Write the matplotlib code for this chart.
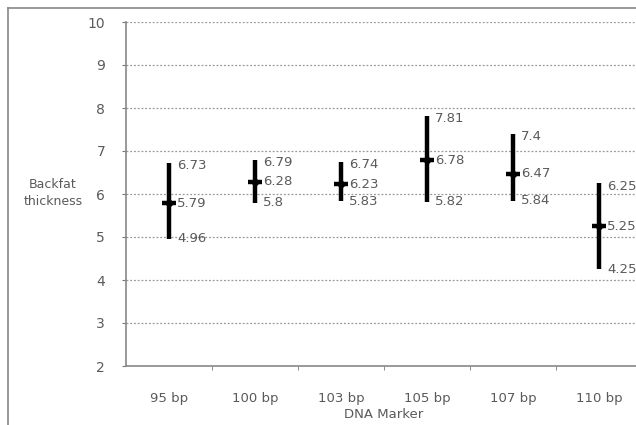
import numpy as np
import matplotlib.pyplot as plt
from matplotlib.lines import Line2D

# Chart data
markers = ["95 bp", "100 bp", "103 bp", "105 bp", "107 bp", "110 bp"]
high_vals = [6.73, 6.79, 6.74, 7.81, 7.4, 6.25]
mean_vals = [5.79, 6.28, 6.23, 6.78, 6.47, 5.25]
low_vals = [4.96, 5.8, 5.83, 5.82, 5.84, 4.25]

plt.rcParams['font.family'] = ['DejaVu Sans']
text_col = '#5a5a5a'

fig = plt.figure(figsize=(6.36, 4.25), dpi=100)
fig.patch.set_facecolor('white')

# plot area (right edge runs past the picture, as in the reference)
ax = fig.add_axes([126/636, 1 - 366/425, 516/636, 344/425])
x = np.arange(len(markers))

# thick range bars + mean marks
ax.vlines(x, low_vals, high_vals, color='black', lw=3.2, zorder=3)
ax.plot(x, mean_vals, linestyle='none', marker='_', ms=10, mew=3.2, color='black', zorder=4)
ax.plot(x, mean_vals, linestyle='none', marker='D', ms=4, color='black', zorder=4)

# value labels
for xi, hi, mi, lo in zip(x, high_vals, mean_vals, low_vals):
    for v, dy in ((hi, -2), (mi, 0), (lo, 0)):
        ax.annotate(f"{v:g}", (xi, v), xytext=(6, dy), textcoords='offset points',
                    ha='left', va='center', fontsize=9.5, color=text_col)

ax.set_xlim(-0.5, len(markers) - 0.5)
ax.set_ylim(2, 10)
ax.set_yticks(range(2, 11))
ax.set_xticks(x)
ax.set_xticklabels(markers)
ax.set_xticks(x[:-1] + 0.5, minor=True)
ax.tick_params(axis='x', which='major', length=0, pad=19, labelsize=9.5, labelcolor=text_col)
ax.tick_params(axis='x', which='minor', length=3, color='#777777')
ax.tick_params(axis='y', length=3, color='#777777', pad=12, labelsize=10, labelcolor=text_col)

for y in range(3, 11):
    ax.axhline(y, color='#999999', lw=0.9, ls=(0, (1.5, 1.5)), zorder=1)

for s in ('top', 'right'):
    ax.spines[s].set_visible(False)
for s in ('left', 'bottom'):
    ax.spines[s].set_color('#888888')
    ax.spines[s].set_linewidth(1.2)

ax.set_xlabel("DNA Marker", fontsize=9.5, color=text_col, labelpad=2)
fig.text(53/636, 1 - 193/425, "Backfat\nthickness", ha='center', va='center',
         fontsize=9, color=text_col, linespacing=1.4)

# outer frame
fig.add_artist(Line2D([8/636, 8/636], [0, 1 - 8/425], color='#888888', lw=1.2))
fig.add_artist(Line2D([8/636, 1], [1 - 8/425, 1 - 8/425], color='#888888', lw=1.2))

fig.savefig("out.png", dpi=100)
